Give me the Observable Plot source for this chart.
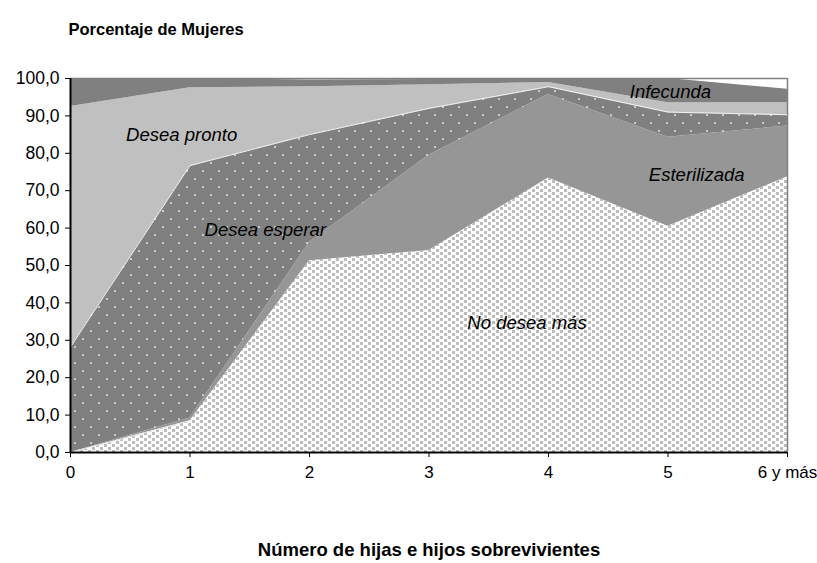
<!DOCTYPE html>
<html>
<head>
<meta charset="utf-8">
<script src="https://cdn.jsdelivr.net/npm/d3@7"></script>
<script src="https://cdn.jsdelivr.net/npm/@observablehq/plot@0.6"></script>
<style>
  html, body { margin: 0; padding: 0; background: #fff; }
  #chart { width: 817px; height: 563px; }
</style>
</head>
<body>
<div id="chart"></div>
<script>
// Categories (x axis)
const categories = ["0", "1", "2", "3", "4", "5", "6 y más"];
// Series values (percent, stacked bottom to top)
const noDeseaMas   = [0.0, 8.5, 51.3, 54.0, 73.4, 60.5, 73.7];
const esterilizada = [0.0, 0.7, 4.9, 25.5, 22.3, 23.8, 13.6];
const deseaEsperar = [28.2, 67.5, 28.8, 12.5, 2.1, 6.7, 3.0];
const deseaPronto  = [64.3, 20.8, 12.8, 6.3, 1.1, 2.5, 3.2];
const infecunda    = [7.5, 2.5, 1.8, 1.4, 1.1, 6.5, 3.6];
// Y tick values
const yTicks = [0, 10, 20, 30, 40, 50, 60, 70, 80, 90, 100];

const seriesList = [
  {name: "No desea más", values: noDeseaMas, fill: "url(#chk)"},
  {name: "Esterilizada", values: esterilizada, fill: "#969696"},
  {name: "Desea esperar", values: deseaEsperar, fill: "url(#dots)"},
  {name: "Desea pronto", values: deseaPronto, fill: "#c0c0c0"},
  {name: "Infecunda", values: infecunda, fill: "#808080"}
];

// Build stacked table
const base = categories.map(() => 0);
const stacked = seriesList.map(s => {
  const rows = categories.map((c, i) => {
    const y1 = base[i];
    const y2 = y1 + s.values[i];
    base[i] = y2;
    return {x: i, y1, y2, series: s.name};
  });
  return {...s, rows};
});

const font = "'Liberation Sans', Arial, sans-serif";
const fmt = d => d.toFixed(1).replace(".", ",");

const labels = [
  {x: 0.93, y: 84.8, text: "Desea pronto"},
  {x: 1.63, y: 59.4, text: "Desea esperar"},
  {x: 3.82, y: 34.5, text: "No desea más"},
  {x: 5.24, y: 74.3, text: "Esterilizada"},
  {x: 5.02, y: 96.5, text: "Infecunda"}
];

const marks = [];
for (const s of stacked) {
  marks.push(Plot.areaY(s.rows, {x: "x", y1: "y1", y2: "y2", fill: s.fill, curve: "linear"}));
}
// light separating lines
marks.push(Plot.lineY(stacked[2].rows, {x: "x", y: "y2", stroke: "#ffffff", strokeWidth: 1, strokeOpacity: 0.9}));
marks.push(Plot.lineY(stacked[0].rows.slice(0, 2), {x: "x", y: "y2", stroke: "#e8e8e8", strokeWidth: 1}));
// frame borders
marks.push(Plot.ruleY([100], {stroke: "#808080", strokeWidth: 1.5}));
marks.push(Plot.ruleX([6], {stroke: "#808080", strokeWidth: 1.5}));
marks.push(Plot.ruleX([0], {stroke: "#000", strokeWidth: 2}));
marks.push(Plot.ruleY([0], {stroke: "#000", strokeWidth: 2}));
// axes
marks.push(Plot.axisY({ticks: yTicks, tickFormat: fmt, tickSize: 5, tickPadding: 6, tickStrokeWidth: 2, fontSize: 17.5, label: null}));
marks.push(Plot.axisX({ticks: [0,1,2,3,4,5,6], tickFormat: i => categories[i], tickSize: 5, tickPadding: 8, tickStrokeWidth: 2, fontSize: 17, label: null}));
// series labels
marks.push(Plot.text(labels, {x: "x", y: "y", text: "text", fontSize: 18.5, fontStyle: "italic", fill: "#000", fontFamily: font}));
// titles
marks.push(Plot.text(["Porcentaje de Mujeres"], {frameAnchor: "top-left", dx: -2, dy: -55, fontSize: 16.5, fontWeight: "bold", textAnchor: "start", fill: "#000", fontFamily: font}));
marks.push(Plot.text(["Número de hijas e hijos sobrevivientes"], {frameAnchor: "bottom", dy: 103, fontSize: 18.5, fontWeight: "bold", fill: "#000", fontFamily: font}));

const plot = Plot.plot({
  width: 817,
  height: 563,
  marginLeft: 70,
  marginRight: 30,
  marginTop: 78,
  marginBottom: 111,
  x: {domain: [0, 6]},
  y: {domain: [0, 100]},
  style: {fontFamily: font, color: "#000", background: "#fff", overflow: "visible"},
  marks
});

// patterns
const svg = d3.select(plot);
const defs = svg.insert("defs", ":first-child");
const chk = defs.append("pattern").attr("id", "chk").attr("patternUnits", "userSpaceOnUse")
  .attr("width", 8).attr("height", 6);
chk.append("rect").attr("width", 8).attr("height", 6).attr("fill", "#ffffff");
chk.append("rect").attr("x", 0).attr("y", 0).attr("width", 3).attr("height", 3).attr("fill", "#bcbcbc");
chk.append("rect").attr("x", 4).attr("y", 3).attr("width", 3).attr("height", 3).attr("fill", "#bcbcbc");
const dots = defs.append("pattern").attr("id", "dots").attr("patternUnits", "userSpaceOnUse")
  .attr("width", 16).attr("height", 16);
dots.append("rect").attr("width", 16).attr("height", 16).attr("fill", "#808080");
dots.append("rect").attr("x", 2).attr("y", 2).attr("width", 2).attr("height", 2).attr("fill", "#c8c8c8");
dots.append("rect").attr("x", 10).attr("y", 10).attr("width", 2).attr("height", 2).attr("fill", "#c8c8c8");

document.getElementById("chart").appendChild(plot);
</script>
</body>
</html>
